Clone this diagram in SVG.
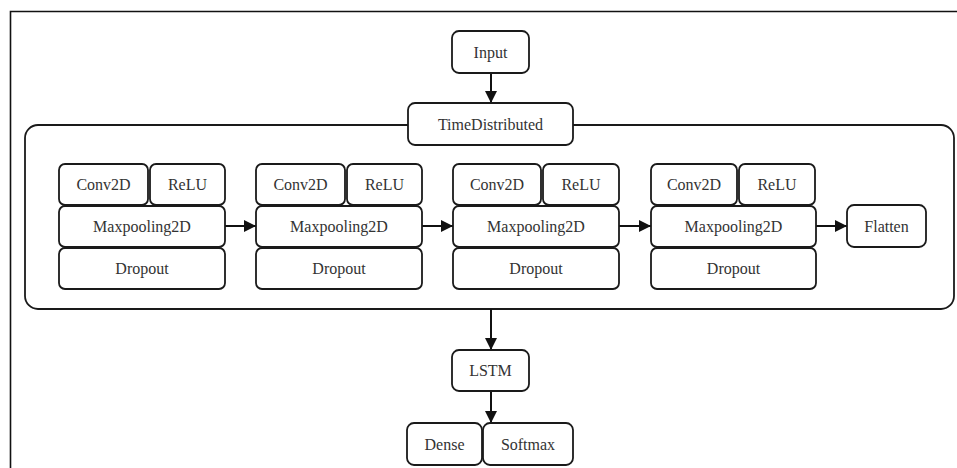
<svg xmlns="http://www.w3.org/2000/svg" width="957" height="468" viewBox="0 0 957 468">
<style>
.b{fill:#fff;stroke:#1a1a1a;stroke-width:1.8}
.t{font-family:'Liberation Serif','DejaVu Serif','Times New Roman',serif;font-size:16px;fill:#333;text-anchor:middle}
.c{stroke:#111;stroke-width:2;fill:none}
</style>
<defs>
<marker id="ah" markerWidth="13" markerHeight="13" refX="12" refY="6.5" orient="auto" markerUnits="userSpaceOnUse">
<path d="M0,0.5 L12,6.5 L0,12.5 Z" fill="#111"/>
</marker>
</defs>
<rect x="0" y="0" width="957" height="468" fill="#fff"/>
<path d="M10.5,468 V11.5 H957" fill="none" stroke="#111" stroke-width="1.6"/>
<g id="container"><rect class="b" x="25" y="125" width="929" height="184" rx="13"/></g>
<g id="connectors">
<line class="c" x1="491" y1="73" x2="491" y2="103" marker-end="url(#ah)"/>
<line class="c" x1="225" y1="226" x2="256" y2="226" marker-end="url(#ah)"/>
<line class="c" x1="422" y1="226" x2="453" y2="226" marker-end="url(#ah)"/>
<line class="c" x1="619" y1="226" x2="651" y2="226" marker-end="url(#ah)"/>
<line class="c" x1="816" y1="226" x2="847" y2="226" marker-end="url(#ah)"/>
<line class="c" x1="491" y1="309" x2="491" y2="350" marker-end="url(#ah)"/>
<line class="c" x1="491" y1="391" x2="491" y2="423" marker-end="url(#ah)"/>
</g>
<g font-family="Liberation Serif, serif">
<g id="input"><rect class="b" x="452" y="31" width="77" height="42" rx="7"/><text class="t" x="490.5" y="57.5">Input</text></g>
<g id="timedistributed"><rect class="b" x="408" y="103" width="165" height="42" rx="7"/><text class="t" x="490.5" y="129.5">TimeDistributed</text></g>
<g id="block1">
<rect class="b" x="59" y="164" width="89" height="41" rx="6"/><text class="t" x="103.5" y="190">Conv2D</text>
<rect class="b" x="150" y="164" width="75" height="41" rx="6"/><text class="t" x="187.5" y="190">ReLU</text>
<rect class="b" x="59" y="206" width="166" height="41" rx="6"/><text class="t" x="142" y="232">Maxpooling2D</text>
<rect class="b" x="59" y="248" width="166" height="41" rx="6"/><text class="t" x="142" y="274">Dropout</text>
</g>
<g id="block2">
<rect class="b" x="256" y="164" width="89" height="41" rx="6"/><text class="t" x="300.5" y="190">Conv2D</text>
<rect class="b" x="347" y="164" width="75" height="41" rx="6"/><text class="t" x="384.5" y="190">ReLU</text>
<rect class="b" x="256" y="206" width="166" height="41" rx="6"/><text class="t" x="339" y="232">Maxpooling2D</text>
<rect class="b" x="256" y="248" width="166" height="41" rx="6"/><text class="t" x="339" y="274">Dropout</text>
</g>
<g id="block3">
<rect class="b" x="453" y="164" width="88" height="41" rx="6"/><text class="t" x="497" y="190">Conv2D</text>
<rect class="b" x="543" y="164" width="76" height="41" rx="6"/><text class="t" x="581" y="190">ReLU</text>
<rect class="b" x="453" y="206" width="166" height="41" rx="6"/><text class="t" x="536" y="232">Maxpooling2D</text>
<rect class="b" x="453" y="248" width="166" height="41" rx="6"/><text class="t" x="536" y="274">Dropout</text>
</g>
<g id="block4">
<rect class="b" x="651" y="164" width="86" height="41" rx="6"/><text class="t" x="694" y="190">Conv2D</text>
<rect class="b" x="739" y="164" width="76" height="41" rx="6"/><text class="t" x="777" y="190">ReLU</text>
<rect class="b" x="651" y="206" width="165" height="41" rx="6"/><text class="t" x="733.5" y="232">Maxpooling2D</text>
<rect class="b" x="651" y="248" width="165" height="41" rx="6"/><text class="t" x="733.5" y="274">Dropout</text>
</g>
<g id="flatten"><rect class="b" x="847" y="205" width="79" height="42" rx="7"/><text class="t" x="886.5" y="231.5">Flatten</text></g>
<g id="lstm"><rect class="b" x="452" y="350" width="77" height="41" rx="7"/><text class="t" x="490.5" y="376">LSTM</text></g>
<g id="dense"><rect class="b" x="407" y="423" width="75" height="42" rx="7"/><text class="t" x="444.5" y="449.5">Dense</text></g>
<g id="softmax"><rect class="b" x="483" y="423" width="90" height="42" rx="7"/><text class="t" x="528" y="449.5">Softmax</text></g>
</g>
</svg>
